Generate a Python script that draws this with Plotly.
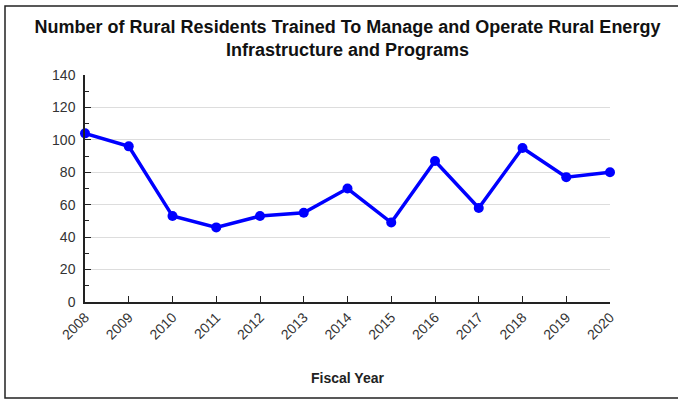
import plotly.graph_objects as go

years = [2008, 2009, 2010, 2011, 2012, 2013, 2014, 2015, 2016, 2017, 2018, 2019, 2020]
trained = [104, 96, 53, 46, 53, 55, 70, 49, 87, 58, 95, 77, 80]
y_ticks = [0, 20, 40, 60, 80, 100, 120, 140]

W, H = 678, 400
ML, MR, MT, MB = 85, 68, 75, 98
PW, PH = W - ML - MR, H - MT - MB

fig = go.Figure()
fig.add_trace(go.Scatter(
    x=years, y=trained, mode="lines+markers",
    line=dict(color="#0000FF", width=3.5),
    marker=dict(color="#0000FF", size=10, symbol="circle"),
    cliponaxis=False, showlegend=False,
))

fig.update_layout(
    width=W, height=H,
    margin=dict(l=ML, r=MR, t=MT, b=MB),
    paper_bgcolor="white", plot_bgcolor="white",
    font=dict(family="Liberation Sans, Arial, sans-serif", color="#333333", size=14),
    title=dict(
        text="<b>Number of Rural Residents Trained To Manage and Operate Rural Energy<br>Infrastructure and Programs</b>",
        x=0.5, xanchor="center", xref="paper", y=1 - 33 / H, yanchor="middle",
        font=dict(size=18, color="#111111", family="Liberation Sans, Arial, sans-serif"),
    ),
    xaxis=dict(
        range=[2008, 2020], tickmode="array", tickvals=years,
        ticktext=[str(y) for y in years], tickangle=-45,
        showgrid=False, zeroline=False,
        showline=True, linecolor="#222222", linewidth=1.5,
        ticks="inside", ticklen=6, tickcolor="#222222",
        tickfont=dict(size=14, color="#333333"),
        title=dict(text="<b>Fiscal Year</b>", font=dict(size=14, color="#222222"), standoff=32),
    ),
    yaxis=dict(
        range=[0, 140], tickmode="array", tickvals=y_ticks,
        showgrid=True, gridcolor="#DDDDDD", gridwidth=1, zeroline=False,
        showline=True, linecolor="#222222", linewidth=1.5,
        ticks="inside", ticklen=6, tickcolor="#222222",
        tickfont=dict(size=14, color="#333333"), ticklabelstandoff=5,
        minor=dict(dtick=10, tick0=0, ticks="inside", ticklen=4, tickcolor="#222222", showgrid=False),
    ),
    shapes=[dict(
        type="rect", xref="paper", yref="paper",
        x0=(5 - ML) / PW, x1=(720 - ML) / PW,
        y0=-(398 - (H - MB)) / PH, y1=((H - MB) - 6) / PH,
        line=dict(color="#222222", width=1.5), fillcolor="rgba(0,0,0,0)", layer="below",
    )],
)

fig.write_html(
    "out.html",
    config={"displayModeBar": False},
    post_script="document.body.style.margin='0';document.body.style.overflow='hidden';",
)
